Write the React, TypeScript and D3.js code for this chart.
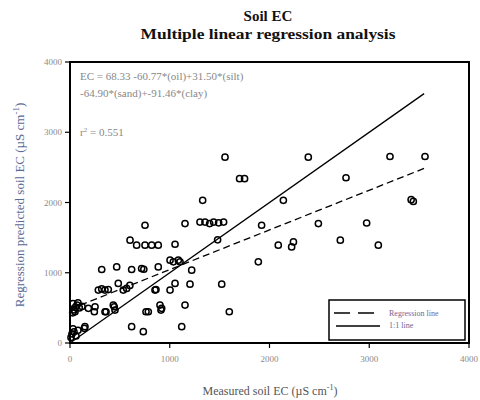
import React from "react";
import * as d3 from "d3";

const measured = [
  20, 40, 60, 30, 80, 143, 150, 10,
  27, 40, 55, 70, 93, 50, 120, 184, 251, 244, 351, 361, 434, 444, 451, 30, 80,
  284, 318, 351, 384, 484, 534, 568, 600, 852, 862, 1003, 1053, 1203,
  618, 735, 1120, 785, 762, 902, 919, 912, 1153, 1521, 1597,
  318, 468, 618, 718, 740, 885, 1036, 1103, 1220, 1086, 1003,
  602, 668, 752, 819, 885, 1053, 1480,
  752, 1153, 1303, 1353, 1400, 1440, 1490, 1540,
  1330, 1554, 1700, 1750, 2139, 2389,
  1921, 2490, 2088, 2240, 2222, 1888, 2710, 3208, 3559, 2767, 2974, 3091, 3442, 3420,
];
const predicted = [
  130, 160, 100, 200, 180, 209, 232, 80,
  430, 470, 510, 540, 500, 445, 520, 493, 516, 445, 445, 445, 540, 516, 469, 560, 570,
  753, 770, 753, 760, 848, 753, 777, 820, 753, 760, 753, 848, 838,
  232, 161, 232, 445, 445, 540, 493, 469, 540, 838, 445,
  1046, 1083, 1046, 1060, 1050, 1083, 1155, 1155, 1037, 1179, 1179,
  1463, 1392, 1392, 1392, 1392, 1406, 1468,
  1676, 1700, 1722, 1722, 1700, 1722, 1710, 1722,
  2031, 2645, 2339, 2339, 2031, 2645,
  1676, 1700, 1392, 1439, 1368, 1155, 1463, 2655, 2655, 2352, 1708, 1392, 2016, 2040,
];

const regressionX = [0, 3560];
const regressionY = [480, 2491];
const oneToOneX = [0, 3550];
const oneToOneY = [0, 3550];

const xTicks = [0, 1000, 2000, 3000, 4000];
const yTicks = [0, 1000, 2000, 3000, 4000];

const titleLines = ["Soil EC", "Multiple linear regression analysis"];
const equationLines = [
  "EC = 68.33 -60.77*(oil)+31.50*(silt)",
  "-64.90*(sand)+-91.46*(clay)",
];
const legendLabels = ["Regression line", "1:1 line"];

export default function App() {
  const W = 480, H = 400;
  const left = 70, right = 469, top = 62, bottom = 343;
  const x = d3.scaleLinear().domain([0, 4000]).range([left, right]);
  const y = d3.scaleLinear().domain([0, 4000]).range([bottom, top]);
  const line = d3.line<[number, number]>().x((d) => x(d[0])).y((d) => y(d[1]));
  const reg = line(regressionX.map((v, i) => [v, regressionY[i]]) as [number, number][]);
  const one = line(oneToOneX.map((v, i) => [v, oneToOneY[i]]) as [number, number][]);
  const font = "'Liberation Serif', 'Times New Roman', serif";
  const tickColor = "#8a8a8a";

  return (
    <svg width={W} height={H} style={{ position: "absolute", left: 0, top: 0, background: "#fff" }} fontFamily={font}>
      <rect x={0} y={0} width={W} height={H} fill="#fff" />
      <text x={268} y={21} textAnchor="middle" fontWeight="bold" fontSize={15} fill="#111">{titleLines[0]}</text>
      <text x={268} y={39} textAnchor="middle" fontWeight="bold" fontSize={15} fill="#111" textLength={255} lengthAdjust="spacingAndGlyphs">{titleLines[1]}</text>

      {/* data points */}
      <g>
        {measured.map((m, i) => (
          <circle key={i} cx={x(m)} cy={y(predicted[i])} r={3.1} fill="none" stroke="#000" strokeWidth={1.5} />
        ))}
      </g>

      <path d={one ?? ""} fill="none" stroke="#000" strokeWidth={1.3} />
      <path d={reg ?? ""} fill="none" stroke="#000" strokeWidth={1.3} strokeDasharray="7,4" />

      {/* frame */}
      <rect x={left} y={top} width={right - left} height={bottom - top} fill="none" stroke="#000" strokeWidth={2} />

      {/* ticks */}
      {xTicks.map((t) => (
        <g key={"x" + t}>
          <line x1={x(t)} x2={x(t)} y1={bottom} y2={bottom + 5} stroke="#000" strokeWidth={1.2} />
          <text x={x(t)} y={362} textAnchor="middle" fontSize={9} fill={tickColor}>{t}</text>
        </g>
      ))}
      {yTicks.map((t) => (
        <g key={"y" + t}>
          <line x1={left - 5} x2={left} y1={y(t)} y2={y(t)} stroke="#000" strokeWidth={1.2} />
          <text x={62} y={y(t) + 3} textAnchor="end" fontSize={9} fill={tickColor}>{t}</text>
        </g>
      ))}

      {/* equation */}
      <text x={80} y={80} fontSize={11} fill="#888">{equationLines[0]}</text>
      <text x={80} y={97} fontSize={11} fill="#888">{equationLines[1]}</text>
      <text x={80} y={136} fontSize={11} fill="#888">
        r<tspan dy={-4} fontSize={7}>2</tspan><tspan dy={4}> = 0.551</tspan>
      </text>

      {/* legend */}
      <rect x={329} y={300} width={136} height={40} fill="#fff" stroke="#000" strokeWidth={1.5} />
      <line x1={334} x2={379} y1={313} y2={313} stroke="#000" strokeWidth={1.5} strokeDasharray="16,8" />
      <line x1={336} x2={380} y1={326} y2={326} stroke="#000" strokeWidth={1.5} />
      <text x={389} y={316} fontSize={8} fill="#7a5f95">{legendLabels[0]}</text>
      <text x={389} y={328} fontSize={8} fill="#5f6a9a">{legendLabels[1]}</text>

      {/* axis titles */}
      <text x={270} y={395} textAnchor="middle" fontSize={12} fill="#555">
        Measured soil EC (µS cm<tspan dy={-5} fontSize={8}>-1</tspan><tspan dy={5}>)</tspan>
      </text>
      <text transform="translate(24,205) rotate(-90)" textAnchor="middle" fontSize={13} fill="#5a6a95">
        Regression predicted soil EC (µS cm<tspan dy={-5} fontSize={9}>-1</tspan><tspan dy={5}>)</tspan>
      </text>
    </svg>
  );
}
